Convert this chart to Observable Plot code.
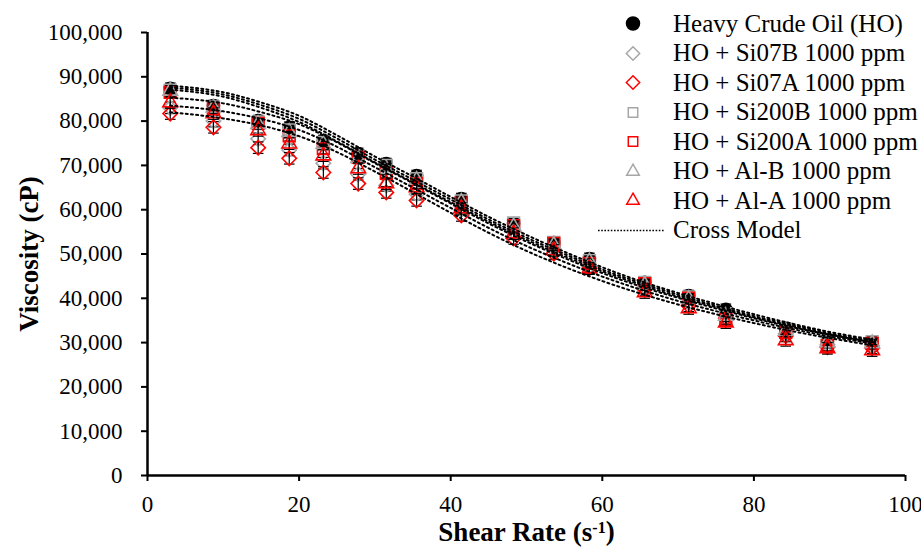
<!DOCTYPE html>
<html><head><meta charset="utf-8">
<script src="https://cdn.jsdelivr.net/npm/d3@7"></script>
<script src="https://cdn.jsdelivr.net/npm/@observablehq/plot@0.6"></script>
<style>
body{margin:0;background:#fff;}
#wrap{position:relative;width:921px;height:549px;font-family:"Liberation Serif",serif;}
#legend{position:absolute;left:595px;top:9px;}
.row{height:29.5px;display:flex;align-items:center;font-size:25px;white-space:nowrap;color:#000;}
.row svg{flex:none;}
g[aria-label="x-axis label"] text, g[aria-label="y-axis label"] text{font-weight:bold;font-size:27px;}
</style>
</head><body>
<div id="wrap"><div id="chart"></div><div id="legend"></div></div>
<script>
// ---- data ----
const shearRate = [3.0, 8.7, 14.6, 18.7, 23.2, 27.8, 31.5, 35.5, 41.4, 48.3, 53.6, 58.3, 65.6, 71.4, 76.3, 84.2, 89.7, 95.6];
const viscHO     = [87400, 83500, 80100, 78600, 75600, 72700, 70400, 67700, 62500, 56900, 52600, 49000, 43600, 40600, 37500, 33200, 30300, 30200];
const viscSi07B  = [83000, 80000, 76000, 73500, 70500, 68000, 65500, 63500, 60000, 55000, 51000, 47200, 42500, 39000, 36000, 32000, 29500, 29300];
const viscSi07A  = [81700, 78600, 74000, 71600, 68400, 65900, 63900, 62100, 58700, 53500, 50100, 46800, 42000, 38300, 35500, 31500, 29000, 28800];
const viscSi200B = [87000, 83200, 79800, 78000, 75200, 72200, 70000, 67000, 62000, 57000, 52600, 48500, 43600, 40300, 36500, 33000, 30300, 30200];
const viscSi200A = [86500, 82800, 79500, 76700, 73800, 71800, 68200, 65900, 61600, 56400, 52400, 47900, 43300, 40000, 35200, 32300, 29300, 29800];
const viscAlB    = [86800, 83000, 79300, 77500, 74800, 71600, 69200, 66700, 61700, 56200, 52000, 48300, 43000, 39800, 36000, 32600, 30000, 29800];
const viscAlA    = [84200, 81700, 77900, 74900, 72200, 69300, 65900, 65000, 60300, 54600, 50800, 46700, 41300, 37700, 34500, 30500, 28700, 28200];
const seriesNames = ["Heavy Crude Oil (HO)", "HO + Si07B 1000 ppm", "HO + Si07A 1000 ppm", "HO + Si200B 1000 ppm", "HO + Si200A 1000 ppm", "HO + Al-B 1000 ppm", "HO + Al-A 1000 ppm"];
const errorSize = [1200, 1300, 1300, 1200, 1200, 1200, 1300];

// Cross model curves
const modelRate    = [3, 10, 15, 20, 25, 30, 35, 40, 45, 50, 55, 60, 65, 70, 75, 80, 85, 90, 96];
const modelHO      = [88000, 86500, 84200, 81200, 76800, 72000, 67500, 62900, 58400, 54300, 50500, 47000, 43900, 41200, 38700, 36400, 34300, 32400, 30600];
const modelSi200B  = [87600, 86000, 83600, 80500, 76100, 71300, 66800, 62300, 57800, 53700, 50000, 46500, 43500, 40800, 38300, 36000, 34000, 32100, 30300];
const modelAlB     = [87100, 85500, 83000, 79800, 75400, 70700, 66200, 61700, 57300, 53200, 49500, 46100, 43100, 40400, 38000, 35700, 33700, 31800, 30000];
const modelSi200A  = [85300, 84000, 82000, 79300, 75200, 70500, 66000, 61400, 56900, 52800, 49100, 45700, 42700, 40100, 37700, 35500, 33500, 31800, 30000];
const modelAlA     = [83500, 82200, 80500, 78000, 74200, 69600, 65000, 60400, 55900, 51800, 48200, 44900, 42000, 39400, 37100, 35000, 33100, 31400, 29700];
const modelSi07A   = [82000, 80600, 79000, 76600, 73000, 68600, 64000, 59300, 54800, 50700, 47100, 43900, 41100, 38600, 36400, 34400, 32600, 31000, 29300];

const xTicks = [0, 20, 40, 60, 80, 100];
const yTicks = [0, 10000, 20000, 30000, 40000, 50000, 60000, 70000, 80000, 90000, 100000];

// ---- build tables ----
const GRAY = "#a6a6a6", RED = "#ff0000";
const seriesStyle = [
  {symbol: "circle", stroke: "black", fill: "black", r: 6},
  {symbol: "diamond2", stroke: GRAY, fill: "none", r: 6.5},
  {symbol: "diamond2", stroke: RED, fill: "none", r: 6.5},
  {symbol: "square2", stroke: GRAY, fill: "none", r: 7.5},
  {symbol: "square2", stroke: RED, fill: "none", r: 7.5},
  {symbol: "triangle2", stroke: GRAY, fill: "none", r: 7},
  {symbol: "triangle2", stroke: RED, fill: "none", r: 7}
];
const seriesValues = [viscHO, viscSi07B, viscSi07A, viscSi200B, viscSi200A, viscAlB, viscAlA];
const points = seriesValues.map((vals, s) => vals.map((v, i) => ({s, x: shearRate[i], y: v, e: errorSize[s]})));
const models = [modelHO, modelSi200B, modelAlB, modelSi200A, modelAlA, modelSi07A]
  .map((vals, k) => vals.map((v, i) => ({k, x: modelRate[i], y: v}))).flat();

const fmt = d3.format(",");
const marks = [
  Plot.axisX({ticks: xTicks, tickSize: 6, tickPadding: 14, strokeWidth: 2, label: "Shear Rate (s-1)", labelAnchor: "center", labelOffset: 65, labelArrow: "none"}),
  Plot.axisY({ticks: yTicks, tickFormat: fmt, tickSize: 6, tickPadding: 19, strokeWidth: 2, label: "Viscosity (cP)", labelAnchor: "center", labelOffset: 129, labelArrow: "none"}),
];
points.forEach((data, s) => {
  const st = seriesStyle[s];
  marks.push(Plot.ruleX(data, {x: "x", y1: d => d.y - d.e, y2: d => d.y + d.e, stroke: "black", strokeWidth: 1.2}));
  marks.push(Plot.link(data, {x1: d => d.x - 0.7, x2: d => d.x + 0.7, y1: d => d.y + d.e, y2: d => d.y + d.e, stroke: "black", strokeWidth: 1.2}));
  marks.push(Plot.link(data, {x1: d => d.x - 0.7, x2: d => d.x + 0.7, y1: d => d.y - d.e, y2: d => d.y - d.e, stroke: "black", strokeWidth: 1.2}));
  marks.push(Plot.dot(data, {x: "x", y: "y", symbol: () => st.symbol, r: st.r, stroke: st.stroke, fill: st.fill, strokeWidth: 1.6}));
});
marks.push(Plot.line(models, {x: "x", y: "y", z: "k", stroke: "black", strokeWidth: 2, strokeDasharray: "2 3.2", curve: "monotone-x"}));
marks.push(Plot.ruleX([0], {stroke: "black", strokeWidth: 2.5}));
marks.push(Plot.ruleY([0], {stroke: "black", strokeWidth: 2.5}));

const chart = Plot.plot({
  width: 921, height: 549,
  marginLeft: 147, marginRight: 16, marginTop: 32, marginBottom: 74,
  x: {domain: [0, 100]},
  y: {domain: [0, 100000]},
  symbol: {type: "identity"},
  style: {fontFamily: "'Liberation Serif', serif", fontSize: "23px", color: "#000", background: "#fff", overflow: "visible"},
  marks
});
document.getElementById("chart").appendChild(chart);

// superscript on x label
const xl = chart.querySelector('g[aria-label="x-axis label"] text');
if (xl) {
  xl.textContent = "";
  const ns = "http://www.w3.org/2000/svg";
  const t1 = document.createElementNS(ns, "tspan"); t1.textContent = "Shear Rate (s";
  const t2 = document.createElementNS(ns, "tspan"); t2.textContent = "-1"; t2.setAttribute("dy", "-0.45em"); t2.setAttribute("font-size", "16px");
  const t3 = document.createElementNS(ns, "tspan"); t3.textContent = ")"; t3.setAttribute("dy", "7");
  xl.append(t1, t2, t3);
}

// legend
const legend = document.getElementById("legend");
seriesNames.concat(["Cross Model"]).forEach((name, i) => {
  const row = document.createElement("div"); row.className = "row";
  const svg = d3.create("svg").attr("width", 78).attr("height", 29);
  if (i < seriesNames.length) {
    const st = seriesStyle[i];
    const sym = {circle: d3.symbolCircle, diamond2: d3.symbolDiamond2, square2: d3.symbolSquare2, triangle2: d3.symbolTriangle2}[st.symbol];
    const size = st.symbol === "circle" ? Math.PI * 6.5 * 6.5 : Math.PI * 6 * 6;
    svg.append("path").attr("transform", "translate(38,14.5)").attr("d", d3.symbol(sym, size)())
      .attr("fill", st.fill).attr("stroke", st.stroke).attr("stroke-width", 1.5);
  } else {
    svg.append("line").attr("x1", 3).attr("x2", 70).attr("y1", 14.5).attr("y2", 14.5)
      .attr("stroke", "black").attr("stroke-width", 1.6).attr("stroke-dasharray", "1.6 1.6");
  }
  row.appendChild(svg.node());
  const span = document.createElement("span"); span.textContent = name;
  row.appendChild(span);
  legend.appendChild(row);
});
</script>
</body></html>
